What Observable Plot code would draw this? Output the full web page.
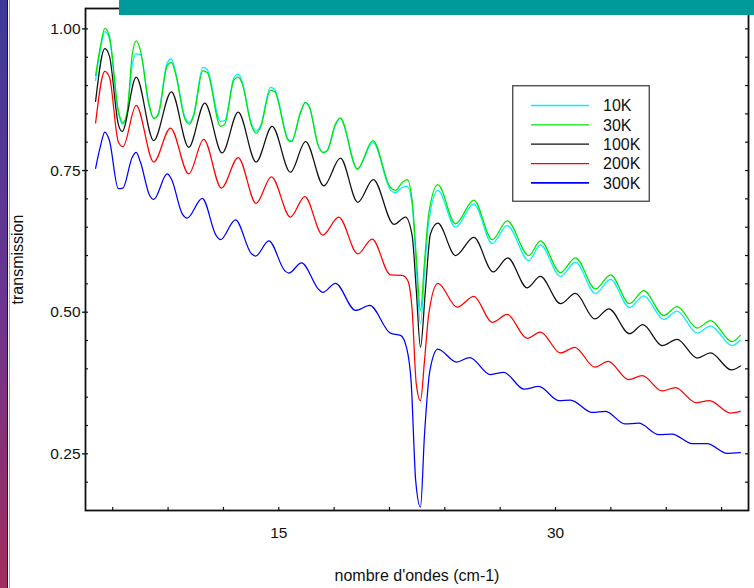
<!DOCTYPE html>
<html><head><meta charset="utf-8">
<script src="https://cdn.jsdelivr.net/npm/d3@7"></script>
<script src="https://cdn.jsdelivr.net/npm/@observablehq/plot@0.6"></script>
<style>
html,body{margin:0;padding:0;background:#fff;}
#wrap{position:relative;width:754px;height:588px;overflow:hidden;font-family:"Liberation Sans",Arial,sans-serif;}
#chart{position:absolute;left:0;top:0;}
#strip{position:absolute;left:0;top:0;width:7px;height:588px;background:linear-gradient(to bottom,#3e3a98,#6a3590 50%,#a22d5e);border-right:1.5px solid #1a1a1a;}
#strip2{position:absolute;left:8.5px;top:0;width:1px;height:588px;background:#aaa;}
#teal{position:absolute;left:119px;top:0;width:635px;height:15px;background:#009a9a;}
#legend{position:absolute;left:512px;top:85px;}
</style></head><body>
<div id="wrap"><div id="chart"></div><div id="strip"></div><div id="strip2"></div><div id="teal"></div><svg id="legend" width="140" height="118"></svg></div>
<script>
// Wavenumber (cm-1) samples and transmission values
const wn30 = [5.07,5.34,5.57,5.82,6.30,6.55,6.78,7.05,7.27,7.50,7.95,8.22,8.46,8.95,9.18,9.40,9.91,10.16,10.39,10.88,11.12,11.84,12.07,12.56,12.80,13.02,13.52,13.77,14.01,14.55,14.78,15.50,15.69,16.18,16.43,16.66,17.14,17.40,17.62,18.07,18.33,19.26,20.10,21.05,21.32,21.69,21.96,22.23,22.45,22.68,22.90,23.13,23.62,24.58,25.57,26.57,27.38,28.55,29.18,30.27,31.08,32.17,32.98,34.01,34.78,35.87,36.59,37.68,38.40,39.57,40.02];
const t10K = [0.909,0.965,0.995,0.982,0.852,0.832,0.852,0.935,0.956,0.955,0.866,0.842,0.850,0.940,0.947,0.925,0.845,0.835,0.850,0.932,0.928,0.837,0.838,0.913,0.920,0.906,0.832,0.820,0.829,0.897,0.893,0.806,0.802,0.853,0.870,0.862,0.794,0.782,0.785,0.830,0.842,0.752,0.800,0.716,0.711,0.720,0.722,0.690,0.580,0.479,0.570,0.660,0.715,0.650,0.691,0.621,0.653,0.591,0.619,0.563,0.588,0.533,0.558,0.508,0.529,0.487,0.502,0.463,0.476,0.441,0.451];
const t30K = [0.918,0.971,1.001,0.987,0.856,0.834,0.853,0.953,0.979,0.962,0.870,0.842,0.848,0.935,0.941,0.921,0.841,0.832,0.847,0.926,0.923,0.828,0.832,0.909,0.915,0.903,0.829,0.816,0.826,0.892,0.889,0.804,0.801,0.853,0.870,0.862,0.794,0.782,0.785,0.832,0.843,0.753,0.803,0.720,0.715,0.729,0.734,0.697,0.600,0.503,0.590,0.674,0.725,0.656,0.698,0.628,0.661,0.600,0.626,0.570,0.596,0.541,0.566,0.515,0.538,0.494,0.510,0.472,0.485,0.448,0.459];
const wn100 = [5.07,5.57,5.82,6.30,6.51,7.27,8.22,9.18,10.12,10.99,11.93,12.80,13.77,14.64,15.63,16.45,17.44,18.34,19.28,20.12,21.24,21.87,22.23,22.45,22.68,22.95,23.22,23.62,24.58,25.57,26.62,27.41,28.46,29.18,30.27,31.08,32.13,32.89,34.01,34.73,35.78,36.59,37.68,38.40,39.54,40.02];
const t100K = [0.872,0.965,0.952,0.832,0.819,0.915,0.803,0.889,0.791,0.869,0.781,0.853,0.765,0.828,0.747,0.801,0.723,0.772,0.694,0.734,0.655,0.668,0.635,0.540,0.438,0.540,0.638,0.657,0.600,0.632,0.571,0.596,0.543,0.563,0.515,0.533,0.488,0.506,0.462,0.478,0.441,0.452,0.419,0.428,0.398,0.405];
const wn200 = [5.07,5.57,5.82,6.30,6.55,7.27,8.22,9.13,10.12,10.93,11.89,12.80,13.77,14.60,15.63,16.41,17.38,18.25,19.28,20.06,21.05,21.69,21.99,22.23,22.45,22.68,22.90,23.13,23.62,24.67,25.57,26.57,27.38,28.46,29.18,30.27,31.04,32.13,32.85,33.97,34.70,35.78,36.50,37.62,38.34,39.48,40.02];
const t200K = [0.834,0.925,0.915,0.801,0.792,0.865,0.765,0.825,0.744,0.805,0.719,0.773,0.692,0.739,0.668,0.704,0.636,0.668,0.603,0.629,0.566,0.565,0.556,0.503,0.374,0.344,0.415,0.497,0.551,0.509,0.528,0.482,0.496,0.454,0.465,0.428,0.438,0.403,0.413,0.381,0.388,0.361,0.367,0.340,0.344,0.322,0.325];
const wn300 = [5.07,5.34,5.57,5.82,6.30,6.55,7.05,7.27,7.50,8.00,8.22,8.95,9.18,9.76,10.03,10.85,11.61,11.84,12.65,13.52,13.74,14.46,15.33,15.54,16.23,17.17,17.38,18.07,19.16,19.93,21.05,21.60,21.92,22.18,22.42,22.68,22.90,23.19,23.62,24.63,25.35,26.47,27.19,28.30,29.09,30.18,30.81,31.99,32.71,33.76,34.51,35.60,36.32,37.41,38.22,39.30,40.02];
const t300K = [0.754,0.794,0.818,0.803,0.718,0.719,0.773,0.782,0.765,0.706,0.699,0.744,0.735,0.674,0.666,0.701,0.635,0.628,0.663,0.603,0.599,0.626,0.573,0.569,0.587,0.540,0.535,0.551,0.503,0.512,0.463,0.459,0.438,0.374,0.203,0.156,0.285,0.397,0.435,0.412,0.420,0.390,0.394,0.364,0.369,0.344,0.345,0.323,0.325,0.303,0.304,0.284,0.285,0.268,0.268,0.251,0.252];

const labels = ["10K","30K","100K","200K","300K"];
const colors = ["#00f0ff","#00e600","#111111","#ff0000","#0000ff"];
const xMajor = [15, 30];
const xMinor = [6,9,12,15,18,21,24,27,30,33,36,39];
const yMajor = [0.25, 0.50, 0.75, 1.00];
const yMinor = [0.20,0.25,0.30,0.35,0.40,0.45,0.50,0.55,0.60,0.65,0.70,0.75,0.80,0.85,0.90,0.95,1.00];
const xTitle = "nombre d'ondes (cm-1)";
const yTitle = "transmission";

const seriesX = [wn30, wn30, wn100, wn200, wn300];
const seriesY = [t10K, t30K, t100K, t200K, t300K];
const rows = labels.flatMap((lab, i) => seriesX[i].map((w, j) => ({label: lab, wn: w, t: seriesY[i][j]})));

const W = 754, H = 588, mL = 85, mR = 6, mT = 8, mB = 78;
const plotW = W - mL - mR, plotH = H - mT - mB;
const font = "'Liberation Sans', Arial, sans-serif";

const chart = Plot.plot({
  width: W, height: H,
  marginLeft: mL, marginRight: mR, marginTop: mT, marginBottom: mB,
  style: {fontFamily: font, fontSize: "15.5px", background: "white", color: "#111"},
  x: {domain: [4.523, 40.46], label: null},
  y: {domain: [0.150, 1.036], label: null},
  color: {domain: labels, range: colors},
  marks: [
    Plot.line(rows, {x: "wn", y: "t", z: "label", stroke: "label", strokeWidth: 1.25, curve: "monotone-x"}),
    Plot.axisY(yMajor, {tickSize: 3, tickPadding: 2, tickFormat: d3.format(".2f"), fontSize: 15.5, strokeWidth: 1.3, label: null}),
    Plot.tickY(yMinor, {y: d => d, insetRight: plotW - 3, stroke: "#111", strokeWidth: 1.2}),
    Plot.tickY(yMinor, {y: d => d, insetLeft: plotW - 3, stroke: "#111", strokeWidth: 1.2}),
    Plot.axisX(xMajor, {tickSize: 0, tickPadding: 16, fontSize: 15.5, label: null}),
    Plot.tickX(xMinor, {x: d => d, insetTop: plotH - 3, stroke: "#111", strokeWidth: 1.2}),
    Plot.frame({stroke: "#111", strokeWidth: 1.8}),
    Plot.text([xTitle], {text: d => d, frameAnchor: "bottom", lineAnchor: "middle", textAnchor: "middle", dy: 65, fontSize: 16, fill: "#111"}),
    Plot.text([yTitle], {text: d => d, frameAnchor: "left", lineAnchor: "middle", textAnchor: "middle", dx: -67.5, rotate: -90, fontSize: 16, fill: "#111"})
  ]
});
document.getElementById("chart").appendChild(chart);

// Legend
const lg = d3.select("#legend");
lg.append("rect").attr("x", 0.75).attr("y", 0.75).attr("width", 136.5).attr("height", 115.5)
  .attr("fill", "white").attr("stroke", "#444").attr("stroke-width", 1.3);
labels.forEach((lab, i) => {
  const y = 20.5 + i * 19.35;
  lg.append("line").attr("x1", 19).attr("x2", 77).attr("y1", y).attr("y2", y)
    .attr("stroke", colors[i]).attr("stroke-width", i === 4 ? 1.8 : 1.3);
  lg.append("text").attr("x", 91).attr("y", y).attr("dy", "0.36em")
    .attr("font-family", font).attr("font-size", 16).attr("fill", "#111").text(lab);
});
</script>
</body></html>
